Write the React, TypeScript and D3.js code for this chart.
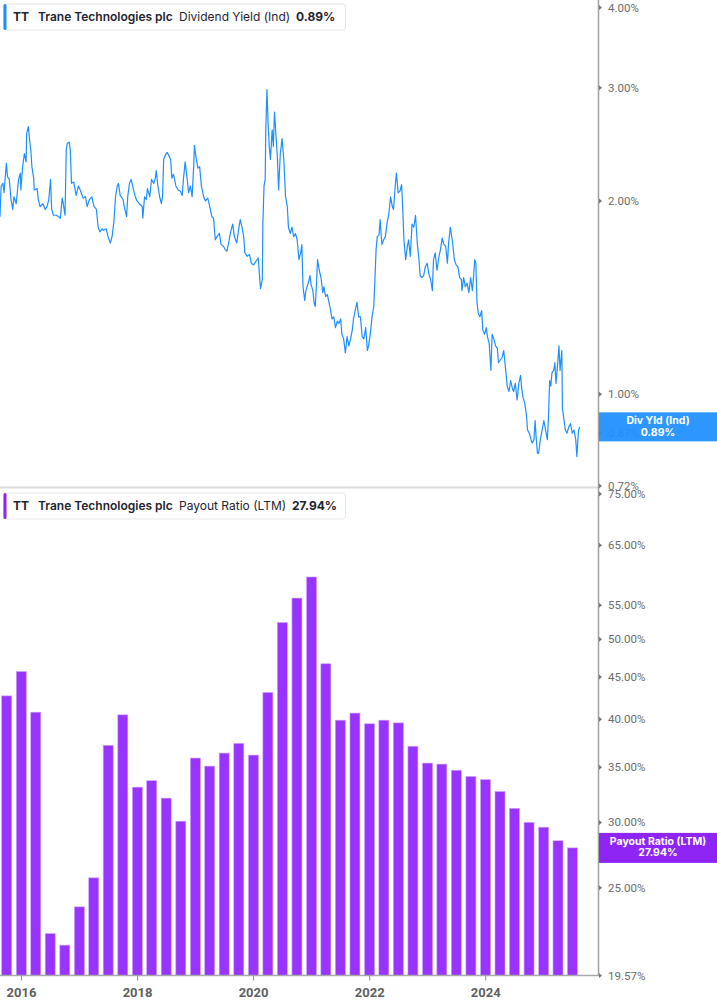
import React from 'react';
import * as d3 from 'd3';

const W = 717;
const H = 1005;
const AXIS_X = 598.5;

// time window shown on the x axis
const X_START = '2015-08-19';
const X_END = '2025-12-11';

const yieldTicks = [0.72, 0.87, 1, 2, 3, 4];
const payoutTicks = [19.57, 25, 30, 35, 40, 45, 50, 55, 65, 75];

const yieldLast = 0.89;
const payoutLast = 27.94;

const payoutQuarters = [
  '2015-09-30', '2015-12-31',
  '2016-03-31', '2016-06-30', '2016-09-30', '2016-12-31',
  '2017-03-31', '2017-06-30', '2017-09-30', '2017-12-31',
  '2018-03-31', '2018-06-30', '2018-09-30', '2018-12-31',
  '2019-03-31', '2019-06-30', '2019-09-30', '2019-12-31',
  '2020-03-31', '2020-06-30', '2020-09-30', '2020-12-31',
  '2021-03-31', '2021-06-30', '2021-09-30', '2021-12-31',
  '2022-03-31', '2022-06-30', '2022-09-30', '2022-12-31',
  '2023-03-31', '2023-06-30', '2023-09-30', '2023-12-31',
  '2024-03-31', '2024-06-30', '2024-09-30', '2024-12-31',
  '2025-03-31', '2025-06-30',
];

const payoutRatio = [
  42.7, 45.7,
  40.8, 22.0, 21.3, 23.7,
  25.7, 37.2, 40.5, 33.1,
  33.7, 32.1, 30.1, 35.9,
  35.1, 36.4, 37.4, 36.2,
  43.1, 52.4, 56.1, 59.5,
  46.7, 39.9, 40.7, 39.5,
  39.9, 39.6, 37.1, 35.4,
  35.3, 34.7, 34.1, 33.8,
  32.7, 31.2, 30.0, 29.6,
  28.5, 27.94,
];

// [decimal year, dividend yield %]
const dividendYield: [number, number][] = [
  [2015.63, 1.89], [2015.65, 2.11], [2015.68, 2.13], [2015.70, 2.06], [2015.74, 2.29],
  [2015.76, 2.18], [2015.79, 2.16], [2015.82, 2.01], [2015.85, 1.94], [2015.87, 2.03],
  [2015.91, 1.98], [2015.95, 2.16], [2015.98, 2.21], [2015.99, 2.08], [2016.02, 2.26],
  [2016.05, 2.37], [2016.08, 2.30], [2016.09, 2.55], [2016.12, 2.61], [2016.14, 2.49],
  [2016.16, 2.40], [2016.18, 2.26], [2016.21, 2.17], [2016.22, 2.08], [2016.27, 2.09],
  [2016.29, 2.01], [2016.32, 1.96], [2016.37, 1.98], [2016.41, 1.94], [2016.44, 1.96],
  [2016.47, 2.01], [2016.50, 2.16], [2016.52, 1.94], [2016.55, 1.90], [2016.60, 1.90],
  [2016.64, 1.89], [2016.67, 1.88], [2016.70, 2.02], [2016.72, 1.98], [2016.75, 1.90],
  [2016.77, 2.40], [2016.79, 2.46], [2016.82, 2.47], [2016.84, 2.40], [2016.86, 2.13],
  [2016.90, 2.14], [2016.94, 2.04], [2016.98, 2.11], [2017.01, 2.08], [2017.06, 2.02],
  [2017.10, 2.03], [2017.13, 1.96], [2017.17, 2.01], [2017.21, 2.03], [2017.25, 1.96],
  [2017.29, 1.94], [2017.32, 1.82], [2017.35, 1.79], [2017.39, 1.81], [2017.41, 1.80],
  [2017.46, 1.81], [2017.49, 1.76], [2017.53, 1.72], [2017.56, 1.76], [2017.59, 1.85],
  [2017.62, 2.03], [2017.65, 2.11], [2017.67, 2.13], [2017.70, 2.04], [2017.75, 2.01],
  [2017.77, 1.96], [2017.81, 1.89], [2017.83, 2.03], [2017.86, 2.13], [2017.89, 2.16],
  [2017.93, 2.08], [2017.96, 2.03], [2017.99, 2.00], [2018.03, 1.98], [2018.08, 1.96],
  [2018.09, 1.88], [2018.12, 2.03], [2018.15, 2.01], [2018.17, 2.09], [2018.21, 2.03],
  [2018.24, 2.16], [2018.28, 2.13], [2018.31, 2.18], [2018.32, 2.23], [2018.35, 2.11],
  [2018.38, 2.03], [2018.41, 1.98], [2018.43, 2.03], [2018.45, 2.32], [2018.48, 2.36],
  [2018.51, 2.38], [2018.55, 2.34], [2018.57, 2.32], [2018.59, 2.17], [2018.62, 2.20],
  [2018.66, 2.11], [2018.70, 2.08], [2018.74, 2.07], [2018.77, 2.04], [2018.79, 2.16],
  [2018.82, 2.30], [2018.85, 2.18], [2018.88, 2.06], [2018.91, 2.11], [2018.94, 2.03],
  [2018.97, 2.29], [2018.98, 2.44], [2019.01, 2.33], [2019.04, 2.25], [2019.07, 2.26],
  [2019.10, 2.11], [2019.14, 2.03], [2019.17, 2.00], [2019.21, 2.02], [2019.25, 1.95],
  [2019.28, 1.89], [2019.31, 1.88], [2019.34, 1.74], [2019.37, 1.76], [2019.41, 1.78],
  [2019.44, 1.71], [2019.48, 1.70], [2019.51, 1.68], [2019.54, 1.67], [2019.57, 1.72],
  [2019.60, 1.78], [2019.64, 1.84], [2019.67, 1.76], [2019.71, 1.72], [2019.74, 1.80],
  [2019.77, 1.87], [2019.80, 1.82], [2019.83, 1.76], [2019.85, 1.66], [2019.89, 1.64],
  [2019.93, 1.65], [2019.96, 1.60], [2020.00, 1.59], [2020.04, 1.61], [2020.08, 1.63],
  [2020.10, 1.54], [2020.12, 1.46], [2020.15, 1.51], [2020.16, 1.85], [2020.18, 2.11],
  [2020.20, 2.16], [2020.21, 2.58], [2020.23, 2.98], [2020.25, 2.64], [2020.27, 2.43],
  [2020.29, 2.32], [2020.32, 2.58], [2020.34, 2.43], [2020.36, 2.75], [2020.39, 2.49],
  [2020.41, 2.34], [2020.43, 2.08], [2020.46, 2.37], [2020.49, 2.50], [2020.52, 2.32],
  [2020.55, 2.03], [2020.58, 1.96], [2020.60, 1.82], [2020.63, 1.78], [2020.66, 1.82],
  [2020.69, 1.76], [2020.72, 1.78], [2020.75, 1.74], [2020.78, 1.62], [2020.81, 1.66],
  [2020.83, 1.71], [2020.85, 1.47], [2020.88, 1.40], [2020.90, 1.45], [2020.94, 1.49],
  [2020.97, 1.53], [2020.99, 1.48], [2021.02, 1.45], [2021.04, 1.39], [2021.06, 1.37],
  [2021.08, 1.47], [2021.10, 1.62], [2021.13, 1.56], [2021.16, 1.52], [2021.19, 1.44],
  [2021.21, 1.47], [2021.24, 1.42], [2021.27, 1.43], [2021.29, 1.40], [2021.32, 1.36],
  [2021.35, 1.31], [2021.38, 1.32], [2021.41, 1.27], [2021.44, 1.30], [2021.47, 1.29],
  [2021.50, 1.31], [2021.52, 1.24], [2021.55, 1.22], [2021.58, 1.16], [2021.61, 1.23],
  [2021.64, 1.19], [2021.67, 1.22], [2021.70, 1.26], [2021.72, 1.31], [2021.75, 1.35],
  [2021.78, 1.39], [2021.81, 1.32], [2021.84, 1.32], [2021.87, 1.23], [2021.90, 1.22],
  [2021.93, 1.27], [2021.96, 1.17], [2021.98, 1.19], [2022.01, 1.24], [2022.04, 1.32],
  [2022.07, 1.37], [2022.09, 1.51], [2022.11, 1.68], [2022.13, 1.76], [2022.16, 1.77],
  [2022.18, 1.87], [2022.21, 1.71], [2022.24, 1.74], [2022.27, 1.76], [2022.30, 1.85],
  [2022.33, 1.91], [2022.36, 2.03], [2022.39, 1.96], [2022.41, 1.94], [2022.44, 2.11],
  [2022.46, 2.21], [2022.49, 2.06], [2022.52, 2.07], [2022.55, 2.12], [2022.57, 1.94],
  [2022.59, 1.74], [2022.62, 1.62], [2022.65, 1.70], [2022.67, 1.74], [2022.70, 1.64],
  [2022.73, 1.84], [2022.76, 1.82], [2022.79, 1.90], [2022.82, 1.72], [2022.85, 1.62],
  [2022.87, 1.53], [2022.90, 1.52], [2022.93, 1.53], [2022.96, 1.58], [2022.99, 1.60],
  [2023.02, 1.54], [2023.05, 1.51], [2023.08, 1.45], [2023.10, 1.62], [2023.13, 1.66],
  [2023.16, 1.56], [2023.19, 1.63], [2023.22, 1.68], [2023.25, 1.75], [2023.28, 1.71],
  [2023.31, 1.70], [2023.34, 1.60], [2023.36, 1.72], [2023.39, 1.82], [2023.43, 1.72],
  [2023.46, 1.62], [2023.49, 1.59], [2023.52, 1.58], [2023.55, 1.52], [2023.58, 1.51],
  [2023.59, 1.45], [2023.62, 1.52], [2023.65, 1.47], [2023.68, 1.49], [2023.71, 1.44],
  [2023.74, 1.52], [2023.77, 1.45], [2023.79, 1.52], [2023.81, 1.62], [2023.83, 1.60],
  [2023.85, 1.39], [2023.87, 1.34], [2023.90, 1.32], [2023.93, 1.35], [2023.95, 1.26],
  [2023.98, 1.24], [2024.01, 1.27], [2024.03, 1.23], [2024.06, 1.20], [2024.09, 1.09],
  [2024.11, 1.24], [2024.14, 1.22], [2024.17, 1.19], [2024.20, 1.18], [2024.22, 1.12],
  [2024.25, 1.13], [2024.28, 1.14], [2024.31, 1.17], [2024.34, 1.10], [2024.37, 1.03],
  [2024.40, 1.01], [2024.43, 1.05], [2024.46, 1.02], [2024.48, 1.01], [2024.51, 1.04],
  [2024.54, 0.98], [2024.57, 1.04], [2024.60, 1.07], [2024.62, 1.02], [2024.64, 0.99],
  [2024.67, 0.97], [2024.70, 0.93], [2024.72, 0.88], [2024.75, 0.87], [2024.78, 0.85],
  [2024.80, 0.84], [2024.83, 0.85], [2024.85, 0.91], [2024.87, 0.85], [2024.89, 0.81],
  [2024.91, 0.81], [2024.94, 0.85], [2024.97, 0.88], [2025.00, 0.91], [2025.03, 0.88],
  [2025.06, 0.85], [2025.08, 0.92], [2025.10, 1.05], [2025.12, 1.03], [2025.14, 1.08],
  [2025.17, 1.09], [2025.19, 1.12], [2025.21, 1.04], [2025.24, 1.12], [2025.26, 1.19],
  [2025.28, 1.09], [2025.31, 1.17], [2025.32, 0.95], [2025.35, 0.91], [2025.37, 0.88],
  [2025.40, 0.87], [2025.43, 0.89], [2025.46, 0.90], [2025.49, 0.87], [2025.52, 0.88],
  [2025.55, 0.85], [2025.57, 0.80], [2025.59, 0.86], [2025.60, 0.88], [2025.62, 0.89],
];

const BLUE = '#1e8fff';
const PURPLE = '#9933ff';
const PURPLE_DARK = '#8f25f5';
const TEXT = '#1f2330';
const AXIS_TEXT = '#6b6b6b';

// decimal year -> UTC date
const fromYear = (t: number) => {
  const y = Math.floor(t);
  const s = Date.UTC(y, 0, 1);
  const e = Date.UTC(y + 1, 0, 1);
  return new Date(s + (t - y) * (e - s));
};

const pct = d3.format('.2f');

const Legend = ({ y, color, label, value }: { y: number; color: string; label: string; value: string }) => (
  <g transform={`translate(0,${y})`} fontFamily="Inter, 'Noto Sans', sans-serif" fontSize={12} fill={TEXT}>
    <rect x={3.5} y={0.5} width={342} height={26} rx={3} fill="#fff" stroke="#e6e6e6" />
    <rect x={3.5} y={0.5} width={3} height={26} rx={1.5} fill={color} />
    <text x={13} y={17.5} fontWeight={700}>TT</text>
    <text x={38} y={17.5} fontWeight={600}>Trane Technologies plc</text>
    <text x={179} y={17.5} fontWeight={400}>{label}</text>
    <text x={label.startsWith('Payout') ? 292 : 296} y={17.5} fontWeight={700}>{value}</text>
  </g>
);

export default function App() {
  const x = d3.scaleUtc().domain([new Date(X_START), new Date(X_END)]).range([0, AXIS_X]);
  const yTop = d3.scaleLog().domain([0.72, 4]).range([486, 7.5]);
  const yBot = d3.scaleLog().domain([19.57, 75]).range([975.5, 494]);
  const bottom = yBot.range()[0];
  const barW = 10;

  const line = d3.line<[number, number]>()
    .x(d => x(fromYear(d[0])))
    .y(d => yTop(d[1]));

  const years = x.ticks(d3.utcYear.every(2)!);

  const tick = (y: number) => `M${AXIS_X + 0.5},${y - 2.5}L${AXIS_X + 3.5},${y}L${AXIS_X + 0.5},${y + 2.5}Z`;

  return (
    <svg width={W} height={H} viewBox={`0 0 ${W} ${H}`}
      style={{ position: 'absolute', left: 0, top: 0, background: '#fff' }}>
      {/* bars */}
      {payoutRatio.map((v, i) => {
        const cx = x(new Date(payoutQuarters[i]));
        return (
          <rect key={i} x={cx - barW / 2} y={yBot(v)} width={barW} height={bottom - yBot(v)}
            fill={PURPLE} stroke="#c9a3ff" strokeWidth={0.6} />
        );
      })}

      {/* dividend yield line */}
      <path d={line(dividendYield) ?? ''} fill="none" stroke={BLUE} strokeWidth={1.2} strokeLinejoin="round" />

      {/* panel separator and axes */}
      <line x1={0} x2={AXIS_X} y1={487.5} y2={487.5} stroke="#dcdcdc" strokeWidth={2} />
      <line x1={0} x2={AXIS_X + 2} y1={bottom} y2={bottom} stroke="#a8a8a8" strokeWidth={1.5} />
      <line x1={AXIS_X} x2={AXIS_X} y1={0} y2={bottom} stroke="#a0a0a0" strokeWidth={1.5} />

      {/* x axis */}
      <g fontFamily="Roboto, Arial, sans-serif" fontSize={13} fontWeight={700} fill="#5f5f5f" textAnchor="middle">
        {years.map(d => (
          <g key={+d}>
            <line x1={x(d)} x2={x(d)} y1={bottom} y2={bottom + 5} stroke="#8a8a8a" strokeWidth={1} />
            <text x={x(d)} y={bottom + 21}>{d3.utcFormat('%Y')(d)}</text>
          </g>
        ))}
      </g>

      {/* right axes */}
      <g fontFamily="Roboto, Arial, sans-serif" fontSize={11.5} fill={AXIS_TEXT}>
        {yieldTicks.map(v => (
          <g key={'y' + v}>
            <path d={tick(yTop(v))} fill="#777" />
            <text x={608} y={yTop(v)} dy="0.35em">{pct(v)}%</text>
          </g>
        ))}
        {payoutTicks.map(v => (
          <g key={'p' + v}>
            <path d={tick(yBot(v))} fill="#777" />
            <text x={608} y={yBot(v)} dy="0.35em">{pct(v)}%</text>
          </g>
        ))}
      </g>

      {/* last value tags */}
      <g fontFamily="Inter, 'Noto Sans', sans-serif" fontSize={10.5} fontWeight={700} fill="#fff" textAnchor="middle">
        <rect x={AXIS_X + 0.5} y={yTop(yieldLast) - 14.5} width={W - AXIS_X} height={29} fill={BLUE} fillOpacity={0.93} />
        <text x={658} y={yTop(yieldLast) - 3}>Div Yld (Ind)</text>
        <text x={658} y={yTop(yieldLast) + 9}>{pct(yieldLast)}%</text>
        <rect x={AXIS_X + 0.5} y={yBot(payoutLast) - 15} width={W - AXIS_X} height={30} fill={PURPLE_DARK} />
        <text x={658} y={yBot(payoutLast) - 3}>Payout Ratio (LTM)</text>
        <text x={658} y={yBot(payoutLast) + 8.5}>{pct(payoutLast)}%</text>
      </g>

      <Legend y={3.5} color={BLUE} label="Dividend Yield (Ind)" value={`${pct(yieldLast)}%`} />
      <Legend y={492.5} color={PURPLE_DARK} label="Payout Ratio (LTM)" value={`${pct(payoutLast)}%`} />
    </svg>
  );
}
